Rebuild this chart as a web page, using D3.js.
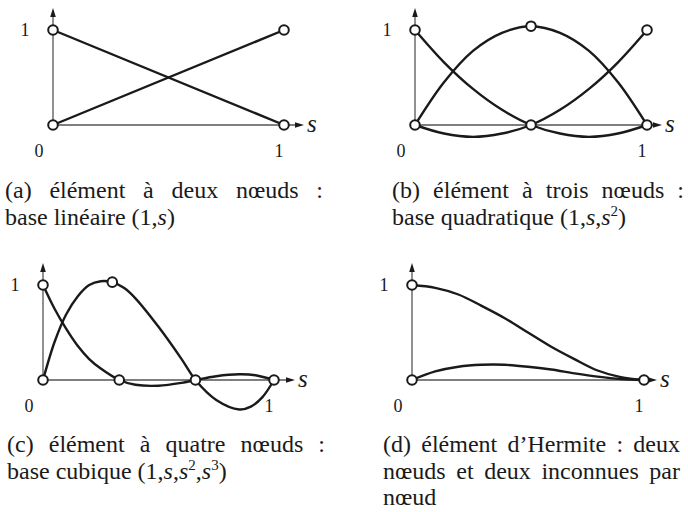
<!DOCTYPE html>
<html>
<head>
<meta charset="utf-8">
<script src="https://cdn.jsdelivr.net/npm/d3@7/dist/d3.min.js"></script>
<style>
  body { margin: 0; background: #fff; }
  text { font-family: "Liberation Serif", "DejaVu Serif", serif; fill: #1a1a1a; }
</style>
</head>
<body>
<svg id="fig" width="688" height="512"></svg>
<script>
// valeurs : [s, valeur]
// (a) deux noeuds
const nodesA = [[0, 1], [0, 0], [1, 1], [1, 0]];
const linA1 = [[0, 1], [1, 0]];
const linA2 = [[0, 0], [1, 1]];

// (b) trois noeuds
const nodesB = [[0, 1], [0, 0], [0.5, 1.04], [0.5, 0], [1, 1], [1, 0]];
const quadB1 = [[0, 1], [0.125, 0.66], [0.25, 0.38], [0.375, 0.16], [0.5, 0], [0.625, -0.09], [0.75, -0.125], [0.875, -0.09], [1, 0]];
const quadB2 = [[0, 0], [0.125, 0.45], [0.25, 0.78], [0.375, 0.97], [0.5, 1.04], [0.625, 0.97], [0.75, 0.78], [0.875, 0.45], [1, 0]];
const quadB3 = [[0, 0], [0.125, -0.09], [0.25, -0.125], [0.375, -0.09], [0.5, 0], [0.625, 0.16], [0.75, 0.38], [0.875, 0.66], [1, 1]];

// (c) quatre noeuds
const nodesC = [[0, 1], [0, 0], [0.3, 1.03], [0.33, 0], [0.66, 0], [1, 0]];
const cubC1 = [[0, 1], [0.05, 0.75], [0.1, 0.54], [0.15, 0.36], [0.2, 0.22], [0.25, 0.12], [0.33, 0], [0.4, -0.05], [0.5, -0.06], [0.6, -0.03], [0.66, 0], [0.75, 0.04], [0.85, 0.06], [0.92, 0.05], [1, 0]];
const cubC2 = [[0, 0], [0.05, 0.4], [0.1, 0.69], [0.15, 0.88], [0.2, 1.0], [0.25, 1.04], [0.3, 1.03], [0.35, 0.97], [0.4, 0.86], [0.5, 0.56], [0.6, 0.22], [0.66, 0], [0.75, -0.21], [0.85, -0.31], [0.9, -0.28], [0.95, -0.18], [1, 0]];

// (d) Hermite
const nodesD = [[0, 1], [0, 0], [1, 0]];
const herD1 = [[0, 1], [0.1, 0.97], [0.2, 0.9], [0.3, 0.78], [0.4, 0.65], [0.5, 0.5], [0.6, 0.35], [0.7, 0.22], [0.8, 0.1], [0.9, 0.03], [1, 0]];
const herD2 = [[0, 0], [0.1, 0.09], [0.2, 0.14], [0.3, 0.16], [0.4, 0.16], [0.5, 0.14], [0.6, 0.11], [0.7, 0.07], [0.8, 0.035], [0.9, 0.01], [1, 0]];

// graduations
const tickValues = [0, 1];
const tickLabels = ["0", "1"];
const axisName = "s";

// légendes (*x* = italique, ^n = exposant)
const captionA = ["(a) élément à deux nœuds :", "base linéaire (1,*s*)"];
const captionB = ["(b) élément à trois nœuds :", "base quadratique (1,*s*,*s*^2)"];
const captionC = ["(c) élément à quatre nœuds :", "base cubique (1,*s*,*s*^2,*s*^3)"];
const captionD = ["(d) élément d’Hermite : deux", "nœuds et deux inconnues par", "nœud"];

// mise en page de chaque panneau (pixels) ; capW = largeur justifiée, 0 = naturelle
const panels = [
  { nodes: nodesA, curves: [linA1, linA2], caption: captionA,
    x0: 53, x1: 284, y0: 125, y1: 30, tipX: 304, tipY: 8,
    capX: 5, capY: 198, capW: [318, 0] },
  { nodes: nodesB, curves: [quadB1, quadB2, quadB3], caption: captionB,
    x0: 415, x1: 647, y0: 125, y1: 30, tipX: 662, tipY: 8,
    capX: 392, capY: 198, capW: [292, 0] },
  { nodes: nodesC, curves: [cubC1, cubC2], caption: captionC,
    x0: 43, x1: 274, y0: 380, y1: 285, tipX: 295, tipY: 263,
    capX: 7, capY: 452, capW: [318, 0] },
  { nodes: nodesD, curves: [herD1, herD2], caption: captionD,
    x0: 412, x1: 644, y0: 380, y1: 285, tipX: 657, tipY: 263,
    capX: 383, capY: 452, capW: [297, 297, 0] }
];

const svg = d3.select("#fig");

function drawCaption(g, lines, x, y, widths) {
  lines.forEach((line, i) => {
    const t = g.append("text")
      .attr("x", x)
      .attr("y", y + i * 26.5)
      .attr("font-size", 24);
    const parts = line.split(/(\*[^*]+\*|\^\d)/).filter(p => p.length);
    let up = false;
    parts.forEach(p => {
      const ts = t.append("tspan");
      if (p[0] === "*") {
        ts.text(p.slice(1, -1)).attr("font-style", "italic");
        if (up) { ts.attr("dy", 9); up = false; }
      } else if (p[0] === "^") {
        ts.text(p.slice(1)).attr("font-size", 15).attr("dy", -9);
        up = true;
      } else {
        ts.text(p);
        if (up) { ts.attr("dy", 9); up = false; }
      }
    });
    // justification : on élargit les espaces
    if (widths[i]) {
      const natural = t.node().getComputedTextLength();
      const nSpaces = (line.match(/ /g) || []).length;
      if (nSpaces) t.attr("word-spacing", (widths[i] - natural) / nSpaces);
    }
  });
}

panels.forEach(p => {
  const x = d3.scaleLinear().domain([0, 1]).range([p.x0, p.x1]);
  const y = d3.scaleLinear().domain([0, 1]).range([p.y0, p.y1]);
  const g = svg.append("g");

  // axes avec flèches
  g.append("line")
    .attr("x1", x(0)).attr("y1", y(0))
    .attr("x2", x(0)).attr("y2", p.tipY + 7)
    .attr("stroke", "#555").attr("stroke-width", 1.3);
  g.append("path")
    .attr("d", `M${x(0)},${p.tipY} L${x(0) - 2.8},${p.tipY + 9} L${x(0) + 2.8},${p.tipY + 9} Z`)
    .attr("fill", "#1a1a1a");
  g.append("line")
    .attr("x1", x(0)).attr("y1", y(0))
    .attr("x2", p.tipX - 7).attr("y2", y(0))
    .attr("stroke", "#555").attr("stroke-width", 1.3);
  g.append("path")
    .attr("d", `M${p.tipX},${y(0)} L${p.tipX - 9},${y(0) - 2.8} L${p.tipX - 9},${y(0) + 2.8} Z`)
    .attr("fill", "#1a1a1a");

  g.append("text")
    .attr("x", p.tipX + 3).attr("y", y(0) + 7)
    .attr("font-size", 25).attr("font-style", "italic")
    .text(axisName);

  // graduations
  g.append("text")
    .attr("x", x(0) - 28).attr("y", y(1) + 6)
    .attr("font-size", 18).attr("text-anchor", "middle")
    .text(tickLabels[1]);
  g.selectAll(".tk")
    .data(tickValues)
    .enter().append("text")
    .attr("x", d => x(d) + (d === 0 ? -14 : -5))
    .attr("y", y(0) + 32)
    .attr("font-size", 18).attr("text-anchor", "middle")
    .text((d, i) => tickLabels[i]);

  // courbes
  const line = d3.line()
    .x(d => x(d[0]))
    .y(d => y(d[1]))
    .curve(d3.curveCatmullRom.alpha(0.5));
  p.curves.forEach(c => {
    g.append("path")
      .datum(c)
      .attr("d", line)
      .attr("fill", "none")
      .attr("stroke", "#1a1a1a")
      .attr("stroke-width", 2.4);
  });

  // noeuds
  g.selectAll("circle")
    .data(p.nodes)
    .enter().append("circle")
    .attr("cx", d => x(d[0]))
    .attr("cy", d => y(d[1]))
    .attr("r", 4.8)
    .attr("fill", "#fff")
    .attr("stroke", "#1a1a1a")
    .attr("stroke-width", 2);

  drawCaption(g, p.caption, p.capX, p.capY, p.capW);
});
</script>
</body>
</html>
